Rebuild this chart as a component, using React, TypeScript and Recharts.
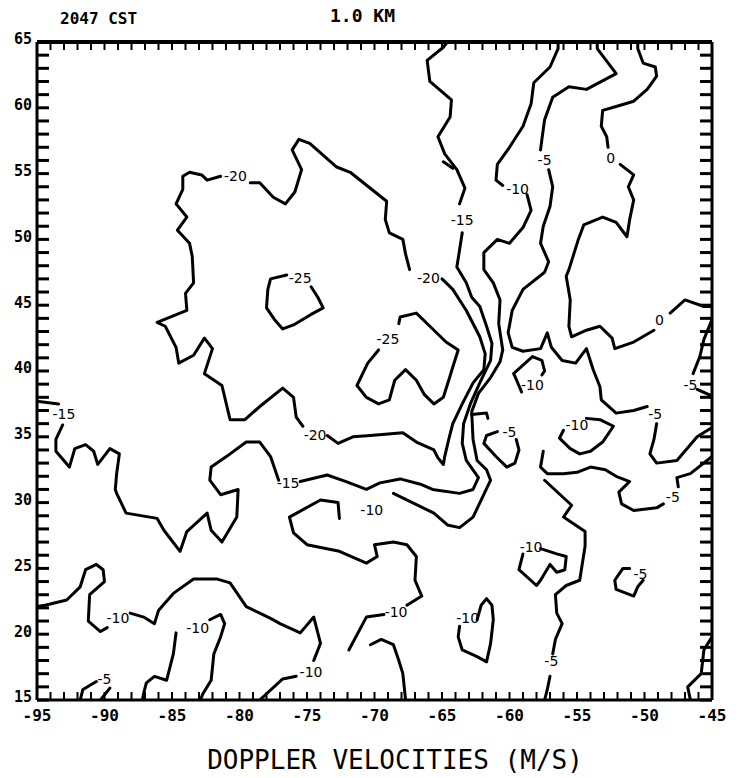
import React from 'react';
import { ScatterChart, Scatter, XAxis, YAxis } from 'recharts';

type P = [number, number];

// axis ticks (every 1 unit, labels every 5)
const xTicks = Array.from({ length: 51 }, (_, i) => -95 + i);
const yTicks = Array.from({ length: 51 }, (_, i) => 15 + i);

// -20 contour
const m20a: P[] = [[-79.2,54.3],[-78.5,54.3],[-77.5,53.2],[-76.6,52.7],[-75.9,53.6],[-75.4,55.3],[-76.1,56.8],[-75.6,57.6],[-74.8,57.3],[-72.8,55.5],[-71.8,55.1],[-69.1,52.9],[-69.2,51.5],[-68.9,50.5],[-67.9,50.0],[-67.7,48.9],[-67.4,47.7]];
const m20b: P[] = [[-65.0,47.0],[-64.2,46.2],[-63.2,44.6],[-62.2,42.6],[-61.8,41.3],[-61.9,40.1],[-62.7,39.1],[-63.5,37.5],[-64.2,36.0],[-64.5,34.8],[-64.8,33.5],[-64.9,32.9],[-65.3,33.4],[-65.6,34.0],[-66.9,34.6],[-67.9,35.3],[-70.3,35.1],[-71.6,35.0],[-72.7,34.5],[-73.5,35.1]];
const m20c: P[] = [[-75.3,35.8],[-75.8,36.5],[-76.0,38.0],[-76.8,38.7],[-78.5,37.3],[-79.6,36.3],[-80.7,36.3],[-81.3,38.9],[-82.6,39.8],[-82.0,41.7],[-82.6,42.5],[-83.4,41.2],[-84.5,40.6],[-84.7,41.8],[-85.5,43.4],[-86.1,43.7],[-83.9,44.6],[-84.0,45.9],[-83.4,46.7],[-83.5,48.7],[-83.7,49.7],[-84.6,50.7],[-83.9,51.7],[-84.7,52.7],[-84.2,53.8],[-84.2,54.8],[-83.7,55.1],[-82.8,54.9],[-82.4,54.5],[-81.4,54.8]];

// -25 contours
const m25a: P[] = [[-74.7,46.4],[-74.2,45.6],[-73.8,44.8],[-74.7,44.3],[-76.0,43.5],[-76.8,43.2],[-77.4,43.9],[-78.0,44.8],[-77.9,46.2],[-77.7,47.0],[-76.5,47.3]];
const m25b: P[] = [[-69.7,41.6],[-70.5,40.6],[-71.3,38.9],[-70.6,38.0],[-69.7,37.5],[-68.9,37.8],[-68.5,39.3],[-67.7,40.1],[-66.9,39.3],[-66.3,38.2],[-65.6,37.5],[-64.9,38.0],[-64.5,39.3],[-64.2,40.3],[-63.8,41.6],[-64.7,42.2],[-65.9,43.4],[-66.9,44.4],[-68.1,44.1],[-68.2,43.6]];

// -15 contour
const m15a: P[] = [[-95,37.7],[-93.4,37.5]];
const m15b: P[] = [[-93.1,35.9],[-93.6,34.8],[-93.6,33.9],[-92.6,32.7],[-92.2,34.1],[-91.4,34.4],[-90.8,33.9],[-90.5,32.9],[-89.6,34.1],[-88.9,33.7],[-89.1,32.2],[-89.2,31.0],[-89.1,30.7],[-88.4,29.2],[-86.1,28.8],[-85.6,27.9],[-84.4,26.3],[-83.9,27.8],[-82.4,29.2],[-82.1,27.9],[-81.3,27.0],[-80.2,28.9],[-80.1,31.0],[-81.4,30.6],[-82.2,31.7],[-82.1,32.7],[-80.7,33.7],[-79.5,34.6],[-78.5,34.6],[-77.7,33.5],[-77.1,31.7]];
const m15c: P[] = [[-75.5,31.6],[-73.5,32.1],[-72.1,31.6],[-70.6,31.0],[-69.6,31.5],[-68.1,31.8],[-66.6,31.4],[-65.7,31.0],[-63.7,30.7],[-62.7,31.0],[-62.3,31.9],[-63.2,33.2],[-63.5,34.5],[-63.4,36.0],[-62.9,37.5],[-62.2,39.1],[-61.4,40.8],[-61.3,42.1],[-61.7,43.4],[-62.2,44.9],[-62.8,45.6],[-63.2,46.7],[-63.9,47.9],[-63.7,49.2],[-63.5,50.5]];
const m15d: P[] = [[-63.7,52.7],[-63.3,53.9],[-63.9,55.3],[-64.8,56.5],[-65.3,57.8],[-64.4,59.3],[-64.3,60.6],[-65.9,62.0],[-66.1,63.6],[-64.9,64.6],[-64.6,65]];
const m15hook: P[] = [[-64.9,55.9],[-64.2,55.4]];

// -10 contours
const m10a: P[] = [[-56.4,65],[-56.4,64.5],[-57.0,63.1],[-58.2,61.9],[-58.4,60.3],[-59.0,58.6],[-60.0,57.0],[-60.9,55.7],[-61.0,54.5],[-60.5,54.1]];
const m10b: P[] = [[-58.7,53.4],[-58.4,52.2],[-59.0,50.9],[-60.0,49.7],[-60.9,50.0],[-61.9,49.0],[-61.9,47.7],[-61.2,46.7],[-60.7,45.4],[-60.8,43.6],[-60.5,41.6],[-60.7,40.7],[-61.4,39.5],[-62.3,38.3],[-62.8,36.9],[-62.7,34.8],[-62.4,33.2],[-61.7,32.5],[-61.4,31.7],[-62.7,28.9],[-63.7,28.1],[-64.6,28.3],[-65.6,29.2],[-68.6,30.7]];
const m10hook: P[] = [[-62.8,36.7],[-61.7,36.8],[-61.6,36.4]];
const m10c: P[] = [[-72.6,28.8],[-72.7,30.0],[-74.0,30.2],[-76.3,28.9],[-76.0,27.7],[-75.0,26.8],[-72.6,26.3],[-70.6,25.4],[-69.8,25.9],[-70.0,26.8],[-68.6,27.0],[-67.6,26.8],[-66.9,25.9],[-67.0,24.1],[-66.5,22.9],[-67.6,22.2]];
const m10d: P[] = [[-69.3,21.5],[-70.6,21.3],[-71.9,18.8]];
const m10e: P[] = [[-70.3,19.2],[-69.5,19.6],[-68.6,19.2],[-68.2,18.0],[-67.9,17.0],[-67.7,15]];
const m10f: P[] = [[-95,22.1],[-94.4,22.2],[-92.8,22.6],[-91.8,23.6],[-91.4,24.9],[-90.6,25.3],[-90.1,24.9],[-90.0,24.0],[-91.1,23.0],[-91.2,21.0],[-90.3,20.2],[-89.8,20.5]];
const m10g: P[] = [[-88.1,21.6],[-87.1,21.3],[-86.3,20.8],[-86.0,21.8],[-84.9,23.1],[-83.4,24.2],[-81.7,24.2],[-80.7,23.9],[-79.5,22.1],[-77.7,21.2],[-77.0,20.8],[-75.5,20.1],[-74.5,21.3],[-74.0,19.3],[-74.5,18.0]];
const m10h: P[] = [[-75.8,16.8],[-76.8,16.6],[-78.5,15]];
const m10i: P[] = [[-87.2,15],[-87.1,15.5],[-86.9,16.3],[-86.3,16.8],[-85.4,16.5],[-84.9,18.5],[-84.7,20.1]];
const m10j: P[] = [[-82.2,21.1],[-81.4,21.5],[-81.1,20.8],[-81.4,19.8],[-81.9,18.5],[-82.1,16.5],[-82.7,15.5],[-82.9,15]];
const m10k: P[] = [[-57.7,26.5],[-56.5,26.1],[-55.8,25.9],[-55.9,24.9],[-56.5,24.7],[-57.0,25.3],[-57.7,24.1],[-58.0,23.7],[-59.3,24.9],[-59.0,26.1]];
const m10l: P[] = [[-57.6,39.7],[-57.4,40.0],[-57.6,40.8],[-58.3,41.1],[-59.7,39.8],[-59.6,39.6],[-59.1,38.4]];
const m10m: P[] = [[-56.0,35.5],[-56.3,34.9],[-55.5,34.1],[-54.8,33.7],[-54.0,33.9],[-53.1,34.6],[-52.3,35.8],[-53.3,36.3],[-54.3,36.4]];
const m10n: P[] = [[-62.4,21.1],[-62.1,22.2],[-61.7,22.7],[-61.3,22.2],[-61.2,21.1],[-61.4,19.3],[-61.7,17.9],[-62.4,18.3],[-63.5,18.8],[-63.8,19.8],[-63.7,20.6]];

// -5 contours
const m5a: P[] = [[-53.5,65],[-53.5,64.5],[-52.1,62.6],[-54.3,61.4],[-55.6,61.6],[-56.8,60.8],[-57.4,59.1],[-57.6,57.6],[-57.7,56.8]];
const m5b: P[] = [[-57.1,55.3],[-56.8,54.0],[-57.0,52.5],[-57.5,51.0],[-57.7,49.7],[-57.1,48.3],[-57.4,47.5],[-59.0,46.2],[-59.8,44.6],[-60.1,42.9],[-59.8,41.8],[-59.0,41.5],[-57.7,41.7],[-57.2,42.9],[-56.9,41.8],[-56.1,40.8],[-55.1,40.6],[-54.3,41.7],[-53.8,40.1],[-53.3,38.8],[-53.2,37.8],[-52.1,36.8],[-50.8,37.0],[-49.8,37.3]];
const m5c: P[] = [[-49.1,36.0],[-49.3,34.8],[-49.6,33.7],[-49.1,33.0],[-47.6,33.2],[-46.1,35.0],[-45,35.7]];
const m5d: P[] = [[-45,43.9],[-45.6,42.4],[-45.9,41.1],[-46.4,39.8]];
const m5e: P[] = [[-46.1,38.6],[-45,38.1]];
const m5f: P[] = [[-60.9,35.4],[-61.7,35.1],[-61.9,34.5],[-61.0,33.5],[-60.2,32.7],[-59.6,33.0],[-59.3,34.0],[-59.5,34.8]];
const m5g: P[] = [[-45,33.5],[-46.6,32.2],[-47.6,31.9],[-47.5,31.2]];
const m5h: P[] = [[-48.6,29.9],[-49.1,29.6],[-50.8,29.4],[-51.7,29.9],[-51.9,30.8],[-51.1,31.6],[-52.1,32.0],[-52.9,32.5],[-54.0,32.7],[-55.0,32.3],[-56.0,32.2],[-57.2,32.2],[-57.7,32.7],[-57.5,33.9]];
const m5i: P[] = [[-57.4,31.7],[-55.4,29.8],[-56.0,28.9],[-54.4,27.8],[-54.4,26.7],[-54.8,24.1],[-55.8,23.7],[-56.6,23.0],[-56.5,21.6],[-56.1,20.8],[-56.6,19.6],[-56.8,18.5]];
const m5j: P[] = [[-57.0,16.8],[-57.2,15.8],[-57.4,15]];
const m5k: P[] = [[-51.1,25.0],[-51.6,25.0],[-52.2,24.1],[-52.1,23.4],[-50.8,22.9],[-50.5,23.6],[-50.1,24.1]];
const m5l: P[] = [[-46.6,15],[-46.8,16.0],[-45.8,17.0],[-45.6,18.8],[-45,19.8]];
const m5m: P[] = [[-91.8,15],[-91.6,15.8],[-90.6,16.4]];
const m5n: P[] = [[-89.6,15.9],[-90.3,15]];

// 0 contour
const z0a: P[] = [[-50.5,65],[-50.5,64.5],[-50.1,63.4],[-49.2,63.1],[-49.1,62.4],[-49.8,61.4],[-50.8,60.5],[-52.1,60.1],[-53.1,59.8],[-53.2,58.6],[-52.8,57.8],[-52.7,57.0]];
const z0b: P[] = [[-51.8,55.7],[-50.8,54.9],[-51.2,54.0],[-50.8,53.0],[-51.1,51.5],[-51.3,50.2],[-52.1,51.3],[-53.1,51.7],[-54.5,51.1],[-54.9,50.0],[-55.6,47.7],[-55.8,47.2],[-55.5,45.4],[-55.6,43.4],[-55.4,42.6],[-54.3,43.1],[-53.3,43.4],[-52.4,42.5],[-52.2,41.7],[-50.8,42.2],[-49.3,43.1]];
const z0c: P[] = [[-48.1,44.4],[-47.0,45.4],[-45.6,44.9],[-45,44.9]];

// contour labels
const labelX = [-80.3,-66.0,-74.4,-75.5,-69.0,-93.0,-76.4,-63.5,-59.4,-58.3,-55.0,-70.2,-58.4,-68.4,-63.1,-89.0,-83.1,-74.7,-57.4,-60.0,-49.2,-46.6,-47.9,-50.3,-56.9,-90.0,-52.5,-48.9];
const labelY = [54.8,47.1,35.1,47.1,42.4,36.7,31.5,51.5,53.8,38.9,35.9,29.4,26.6,21.7,21.2,21.2,20.5,17.1,56.0,35.4,36.7,38.9,30.4,24.6,18.0,16.6,56.2,43.9];
const labelText = ['-20','-20','-20','-25','-25','-15','-15','-15','-10','-10','-10','-10','-10','-10','-10','-10','-10','-10','-5','-5','-5','-5','-5','-5','-5','-5','0','0'];

const segments: P[][] = [
  m20a, m20b, m20c, m25a, m25b, m15a, m15b, m15c, m15d, m15hook,
  m10a, m10b, m10hook, m10c, m10d, m10e, m10f, m10g, m10h, m10i, m10j, m10k, m10l, m10m, m10n,
  m5a, m5b, m5c, m5d, m5e, m5f, m5g, m5h, m5i, m5j, m5k, m5l, m5m, m5n,
  z0a, z0b, z0c,
];

const labels = labelX.map((x, i) => ({ x, y: labelY[i], t: labelText[i] }));

const plotFont = 'DejaVu Sans Mono';
const fmt = (v: number) => (v % 5 === 0 ? String(v) : '');

const ContourLabel = (props: any) => (
  <text
    x={props.cx}
    y={props.cy}
    textAnchor="middle"
    dominantBaseline="central"
    fontFamily="DejaVu Sans"
    fontSize={14}
    fill="#000"
  >
    {props.payload.t}
  </text>
);

export default function App() {
  return (
    <div style={{ position: 'absolute', left: 0, top: 0, width: 739, height: 778, background: '#fff' }}>
      <div style={{ position: 'absolute', left: 60, top: 9, fontFamily: plotFont, fontWeight: 'bold', fontSize: 16 }}>2047 CST</div>
      <div style={{ position: 'absolute', left: 330, top: 5, fontFamily: plotFont, fontWeight: 'bold', fontSize: 18 }}>1.0 KM</div>
      <div style={{ position: 'absolute', left: 0, width: 790, top: 745, textAlign: 'center', fontFamily: plotFont, fontSize: 26 }}>
        DOPPLER VELOCITIES (M/S)
      </div>
      <ScatterChart width={739} height={778} margin={{ top: 0, right: 0, bottom: 0, left: 0 }}>
        <XAxis
          xAxisId="b" orientation="bottom" type="number" dataKey="x" domain={[-95, -45]} allowDataOverflow
          ticks={xTicks} interval={0} height={78} tickSize={-8} tickMargin={18} tickFormatter={fmt}
          axisLine={{ stroke: '#000', strokeWidth: 3 }} tickLine={{ stroke: '#000', strokeWidth: 2 }}
          tick={{ fill: '#000', fontSize: 16, fontFamily: plotFont, fontWeight: 'bold' }}
        />
        <XAxis
          xAxisId="t" orientation="top" type="number" dataKey="x" domain={[-95, -45]} allowDataOverflow
          ticks={xTicks} interval={0} height={42} tickSize={-8} tickFormatter={() => ''}
          axisLine={{ stroke: '#000', strokeWidth: 4 }} tickLine={{ stroke: '#000', strokeWidth: 2 }}
        />
        <YAxis
          yAxisId="l" orientation="left" type="number" dataKey="y" domain={[15, 65]} allowDataOverflow
          ticks={yTicks} interval={0} width={37} tickSize={-12} tickMargin={17} tickFormatter={fmt}
          axisLine={{ stroke: '#000', strokeWidth: 3 }} tickLine={{ stroke: '#000', strokeWidth: 3 }}
          tick={{ fill: '#000', fontSize: 15, fontFamily: plotFont, fontWeight: 'bold', dy: -3 }}
        />
        <YAxis
          yAxisId="r" orientation="right" type="number" dataKey="y" domain={[15, 65]} allowDataOverflow
          ticks={yTicks} interval={0} width={27} tickSize={-12} tickFormatter={() => ''}
          axisLine={{ stroke: '#000', strokeWidth: 3 }} tickLine={{ stroke: '#000', strokeWidth: 3 }}
        />
        {segments.map((seg, i) => (
          <Scatter
            key={`seg-${i}`}
            xAxisId="b"
            yAxisId="l"
            data={seg.map(([x, y]) => ({ x, y }))}
            line={{ stroke: '#000', strokeWidth: 3, strokeLinejoin: 'round', strokeLinecap: 'round' }}
            lineType="joint"
            shape={() => <g />}
            isAnimationActive={false}
          />
        ))}
        <Scatter xAxisId="t" yAxisId="r" data={labels} shape={ContourLabel} isAnimationActive={false} />
      </ScatterChart>
    </div>
  );
}
